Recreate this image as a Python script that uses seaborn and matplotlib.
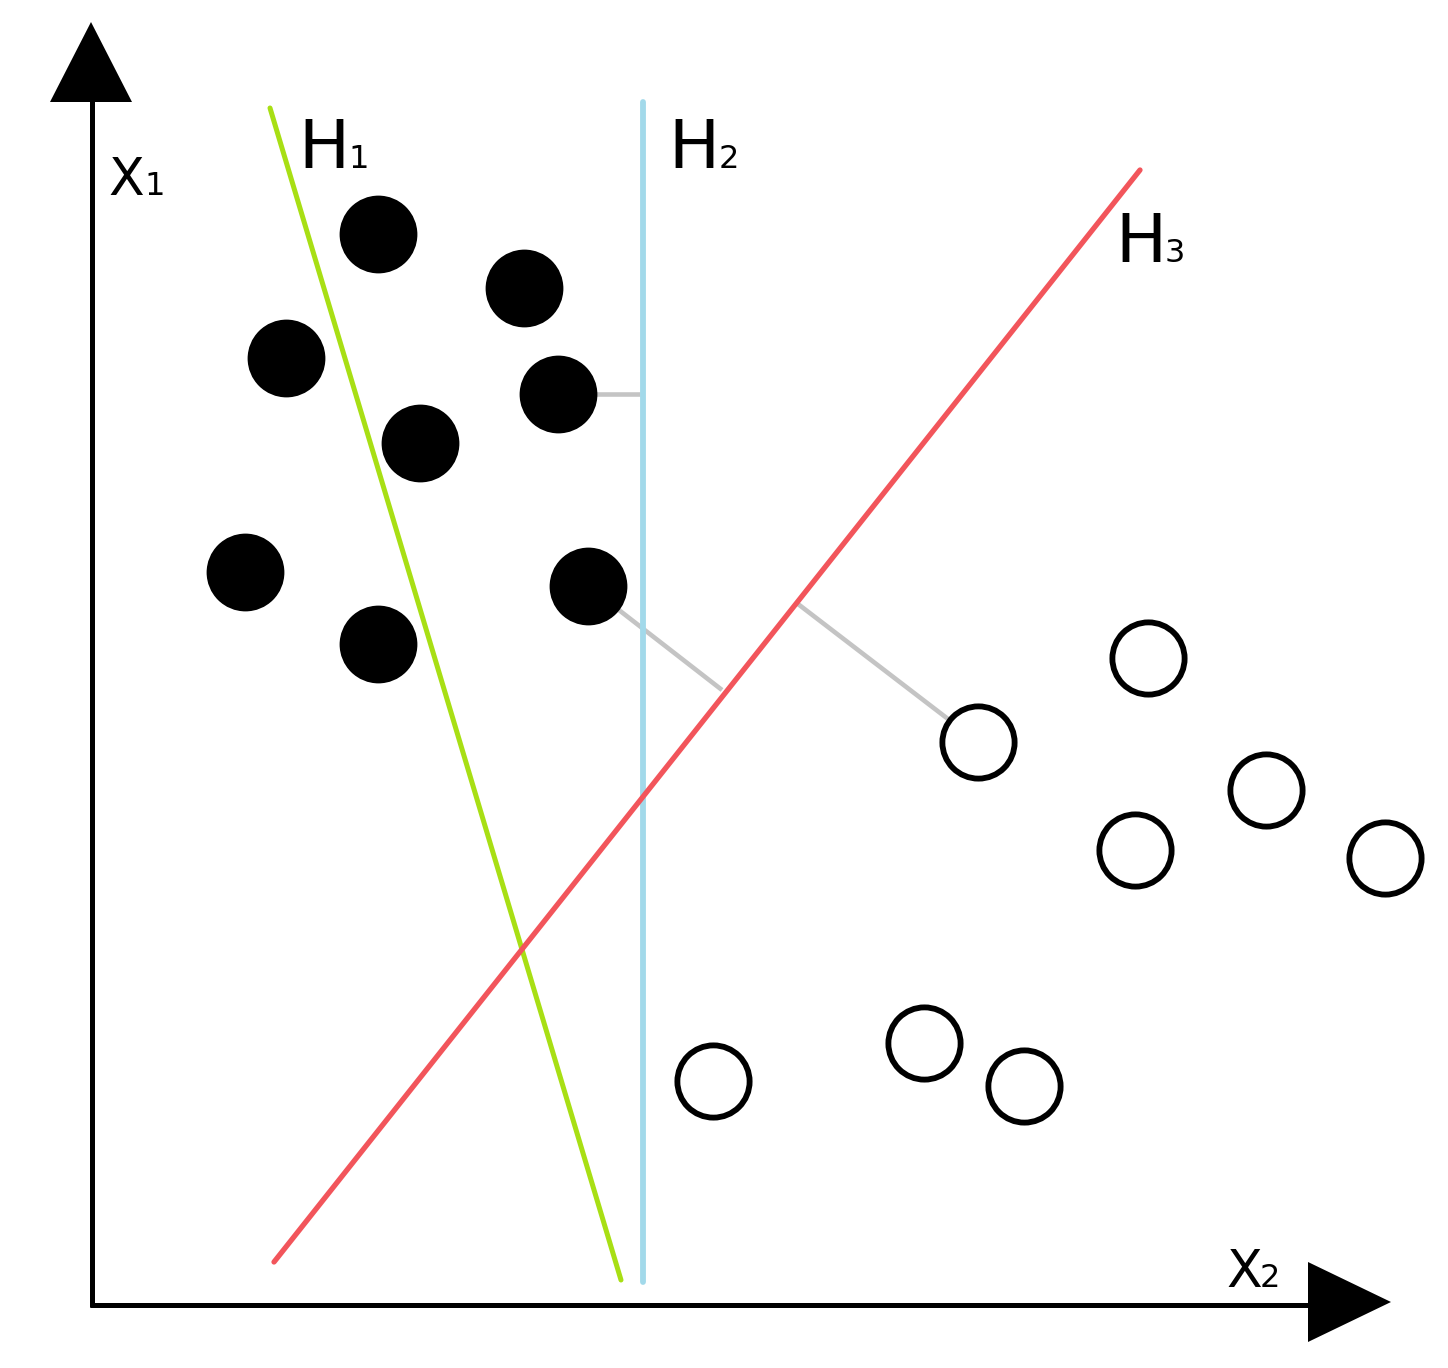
import numpy as np
import pandas as pd
import matplotlib
matplotlib.use("Agg")
import matplotlib.pyplot as plt
import seaborn as sns

# two classes of points (x2 horizontal, x1 vertical)
filled_x2 = [286, 432, 194, 466, 328, 153, 286, 496]
filled_x1 = [1071, 1017, 947, 911, 862, 733, 661, 719]

open_x2 = [1056, 886, 1174, 1043, 1293, 621, 832, 932]
open_x1 = [647, 563, 515, 455, 447, 224, 262, 219]

# separating hyperplanes: end points (x2 start, x2 end, x1 start, x1 end)
hyper_names = ["H1", "H2", "H3"]
hyper_x2 = [(178, 529), (551, 551), (182, 1048)]
hyper_x1 = [(1197, 25), (1203, 23), (43, 1135)]
hyper_colors = ["#a8df14", "#a2d9ea", "#f2555b"]

# margin distances (gray connectors)
margin_x2 = [(466, 548), (496, 630), (706, 886)]
margin_x1 = [(911, 911), (719, 615), (701, 563)]

sns.set_style("white")
plt.rcParams["font.family"] = ["DejaVu Sans"]
plt.rcParams["text.color"] = "black"

fig = plt.figure(figsize=(14.48, 13.68), dpi=100)
ax = fig.add_axes([0, 0, 1, 1])

# gray margin lines (behind the points)
for xs, ys in zip(margin_x2, margin_x1):
    ax.plot(xs, ys, color="#c4c4c4", lw=3.3, solid_capstyle="butt", zorder=1)

# hyperplanes
lws = [3.6, 4.2, 3.8]
for xs, ys, c, lw in zip(hyper_x2, hyper_x1, hyper_colors, lws):
    ax.plot(xs, ys, color=c, lw=lw, solid_capstyle="round", zorder=2)

# points
df_filled = pd.DataFrame({"x2": filled_x2, "x1": filled_x1})
df_open = pd.DataFrame({"x2": open_x2, "x1": open_x1})
sns.scatterplot(data=df_filled, x="x2", y="x1", ax=ax, s=56 ** 2,
                color="black", linewidth=0, zorder=3, legend=False)
sns.scatterplot(data=df_open, x="x2", y="x1", ax=ax, s=52 ** 2,
                facecolor="white", edgecolor="black", linewidth=4.2,
                zorder=3, legend=False)
ax.set_xlim(-92, 1356)
ax.set_ylim(-63, 1305)
ax.axis("off")

# coordinate axes with arrow heads
ax.plot([0, 0], [-2, 1205], color="black", lw=3.6, zorder=4, solid_capstyle="butt")
ax.plot([-2, 1218], [0, 0], color="black", lw=3.6, zorder=4, solid_capstyle="butt")
ax.fill([-42, 40, -1], [1203, 1203, 1283], color="black", zorder=4, lw=0)
ax.fill([1216, 1216, 1299], [43, -37, 3], color="black", zorder=4, lw=0)

# labels with subscripts
big, mid, sub = 49, 37.5, 23
ax.text(16, 1110, "X", fontsize=mid, va="baseline", ha="left", color="black")
ax.text(52, 1110, "1", fontsize=sub, va="baseline", ha="left", color="black")
ax.text(1134, 18, "X", fontsize=mid, va="baseline", ha="left", color="black")
ax.text(1168, 18, "2", fontsize=sub, va="baseline", ha="left", color="black")

ax.text(206, 1137, "H", fontsize=big, va="baseline", ha="left", color="black")
ax.text(256, 1137, "1", fontsize=sub, va="baseline", ha="left", color="black")
ax.text(576, 1137, "H", fontsize=big, va="baseline", ha="left", color="black")
ax.text(627, 1137, "2", fontsize=sub, va="baseline", ha="left", color="black")
ax.text(1023, 1043, "H", fontsize=big, va="baseline", ha="left", color="black")
ax.text(1073, 1043, "3", fontsize=sub, va="baseline", ha="left", color="black")

fig.savefig("out.png", dpi=100, facecolor="white")
